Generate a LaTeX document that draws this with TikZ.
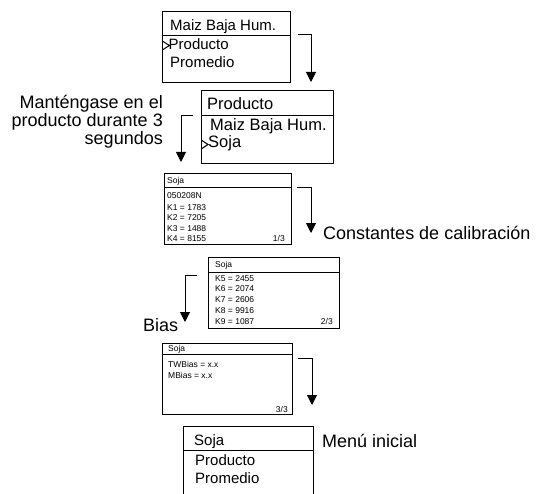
\documentclass[tikz,border=0pt]{standalone}
\usepackage{fontspec}
\setmainfont{Liberation Sans}
\usetikzlibrary{arrows.meta}
\begin{document}
\begin{tikzpicture}[x=1pt,y=-1pt,
  frame/.style={draw, line width=0.9pt},
  flow/.style={line width=1pt, -{Triangle[width=10pt,length=10pt]}},
  chev/.style={line width=1pt},
  big/.style={anchor=base west, inner sep=0, font=\fontsize{15}{15}\selectfont},
  bigb/.style={anchor=base west, inner sep=0, font=\fontsize{16.5}{16.5}\selectfont},
  sm/.style={anchor=base west, inner sep=0, font=\fontsize{8.5}{8.5}\selectfont},
  smr/.style={anchor=base east, inner sep=0, font=\fontsize{8.5}{8.5}\selectfont},
  lab/.style={anchor=base west, inner sep=0, font=\fontsize{18}{18}\selectfont}
]
\useasboundingbox (0,0) rectangle (537,494);
% ---------- Box 1
\draw[frame] (162,11) rectangle (290,82);
\draw[frame] (162,35) -- (290,35);
\node[big] (b1a) at (170,31) {Maiz Baja Hum.};
\node[big] (b1b) at (168.5,50) {Producto};
\node[big] (b1c) at (170,68) {Promedio};
\draw[chev] (163,41.5) -- (169.5,45.5) -- (163,49.5);
\coordinate (a1s) at (298,35);
\coordinate (a1c) at (311,35);
\coordinate (a1e) at (311,82);
\draw[flow] (a1s) -- (a1c) -- (a1e);
% ---------- Box 2
\draw[frame] (201,90) rectangle (333,163);
\draw[frame] (201,115) -- (333,115);
\node[bigb] (b2a) at (207,110) {Producto};
\node[bigb] (b2b) at (210,131) {Maiz Baja Hum.};
\node[bigb] (b2c) at (208,148) {Soja};
\draw[chev] (202,140.5) -- (208,144.5) -- (202,148.5);
\coordinate (a2s) at (193,116);
\coordinate (a2c) at (181,116);
\coordinate (a2e) at (181,162);
\draw[flow] (a2s) -- (a2c) -- (a2e);
\node[anchor=base east, inner sep=0, align=right,
      font=\fontsize{18}{14}\selectfont] (l1) at (163,145)
  {Manténgase en el\\producto durante 3\\[1pt]segundos};
% ---------- Box 3
\draw[frame] (164,173) rectangle (291,244);
\draw[frame] (164,187) -- (291,187);
\node[sm] (b3h) at (167,184) {Soja};
\node[sm] (b3a) at (167,199) {050208N};
\node[sm] (b3b) at (167,210) {K1 = 1783};
\node[sm] (b3c) at (167,220.5) {K2 = 7205};
\node[sm] (b3d) at (167,231) {K3 = 1488};
\node[sm] (b3e) at (167,241.5) {K4 = 8155};
\node[smr] (b3p) at (285,241.5) {1/3};
\coordinate (a3s) at (297,188);
\coordinate (a3c) at (311,188);
\coordinate (a3e) at (311,233);
\draw[flow] (a3s) -- (a3c) -- (a3e);
\node[lab] (l4) at (323,239) {Constantes de calibración};
% ---------- Box 4
\draw[frame] (208,257) rectangle (339,328);
\draw[frame] (208,272) -- (339,272);
\node[sm] (b4h) at (215,267) {Soja};
\node[sm] (b4a) at (215,281) {K5 = 2455};
\node[sm] (b4b) at (215,291.5) {K6 = 2074};
\node[sm] (b4c) at (215,302) {K7 = 2606};
\node[sm] (b4d) at (215,313) {K8 = 9916};
\node[sm] (b4e) at (215,324) {K9 = 1087};
\node[smr] (b4p) at (333,324) {2/3};
\coordinate (a4s) at (197,275);
\coordinate (a4c) at (185,275);
\coordinate (a4e) at (185,322);
\draw[flow] (a4s) -- (a4c) -- (a4e);
\node[lab] (l5) at (143,331) {Bias};
% ---------- Box 5
\draw[frame] (162,343) rectangle (292,414);
\draw[frame] (162,354) -- (292,354);
\node[sm] (b5h) at (168,351.5) {Soja};
\node[sm] (b5a) at (168,367) {TWBias = x.x};
\node[sm] (b5b) at (168,378) {MBias = x.x};
\node[smr] (b5p) at (288,412) {3/3};
\coordinate (a5s) at (298,358);
\coordinate (a5c) at (312,358);
\coordinate (a5e) at (312,405);
\draw[flow] (a5s) -- (a5c) -- (a5e);
% ---------- Box 6
\draw[frame] (183,494) -- (183,426) -- (313,426) -- (313,494);
\draw[frame] (183,450) -- (313,450);
\node[big] (b6a) at (194,445) {Soja};
\node[big] (b6b) at (195,465) {Producto};
\node[big] (b6c) at (195,483) {Promedio};
\node[lab] (l6) at (322,447) {Menú inicial};
\end{tikzpicture}
\end{document}
